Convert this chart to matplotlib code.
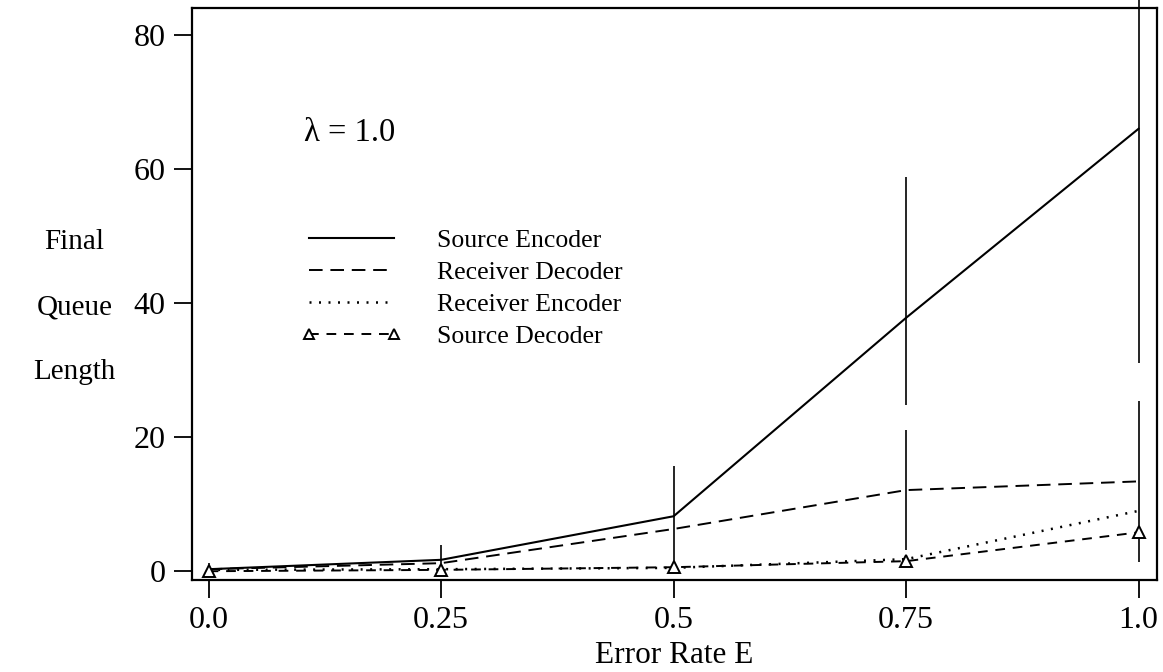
import matplotlib.pyplot as plt

plt.rcParams['font.family'] = ['Liberation Serif', 'DejaVu Serif']

error_rate = [0.0, 0.25, 0.5, 0.75, 1.0]

source_encoder = [0.3, 1.7, 8.2, 37.8, 66.0]
source_encoder_err_lo = [1.0, 2.2, 7.5, 13.0, 35.0]
source_encoder_err_hi = [1.0, 2.2, 7.5, 21.0, 35.0]

receiver_decoder = [0.3, 1.2, 6.3, 12.1, 13.4]
receiver_decoder_err = [0.0, 0.0, 0.0, 9.0, 12.0]

receiver_encoder = [0.2, 0.3, 0.5, 1.8, 9.0]
source_decoder = [0.0, 0.2, 0.6, 1.5, 5.8]

xtick_labels = ['0.0', '0.25', '0.5', '0.75', '1.0']
yticks = [0, 20, 40, 60, 80]

fig = plt.figure(figsize=(11.63, 6.72), dpi=100)
ax = fig.add_axes([0.165, 0.137, 0.830, 0.851])

# error bars (plain vertical lines, no caps)
ax.errorbar(error_rate, source_encoder, yerr=[source_encoder_err_lo, source_encoder_err_hi],
            fmt='none', ecolor='black', elinewidth=1.2, capsize=0, clip_on=False)
ax.errorbar(error_rate, receiver_decoder, yerr=receiver_decoder_err,
            fmt='none', ecolor='black', elinewidth=1.2, capsize=0)

ax.plot(error_rate, source_encoder, color='black', lw=1.5, label='Source Encoder')
ax.plot(error_rate, receiver_decoder, color='black', lw=1.4, dashes=(7, 4), label='Receiver Decoder')
ax.plot(error_rate, receiver_encoder, color='black', lw=1.8, dashes=(0.8, 3.0), label='Receiver Encoder')
ax.plot(error_rate, source_decoder, color='black', lw=1.4, dashes=(5, 4),
        marker='^', markersize=8.5, markerfacecolor='white', markeredgecolor='black',
        markeredgewidth=1.4, label='Source Decoder')

ax.set_xlim(-0.018, 1.02)
ax.set_ylim(-1.3, 84)
ax.set_xticks(error_rate)
ax.set_xticklabels(xtick_labels)
ax.set_yticks(yticks)
ax.tick_params(axis='both', direction='out', length=13, width=1.3, labelsize=23, pad=6)

for s in ax.spines.values():
    s.set_linewidth(1.6)

ax.set_xlabel('Error Rate E', fontsize=22.5, labelpad=4)
fig.text(0.064, 0.543, 'Final\nQueue\nLength', fontsize=21, ha='center', va='center',
         linespacing=2.95)

ax.text(0.103, 65.4, 'λ = 1.0', fontsize=23.5, ha='left', va='center')

ax.legend(loc='upper left', bbox_to_anchor=(0.259, 0.659), bbox_transform=fig.transFigure,
          frameon=False, fontsize=18.5, handlelength=3.9, handletextpad=1.4,
          labelspacing=0.35, borderpad=0, borderaxespad=0, numpoints=2, markerscale=0.8)

fig.savefig('out.png', dpi=100)
